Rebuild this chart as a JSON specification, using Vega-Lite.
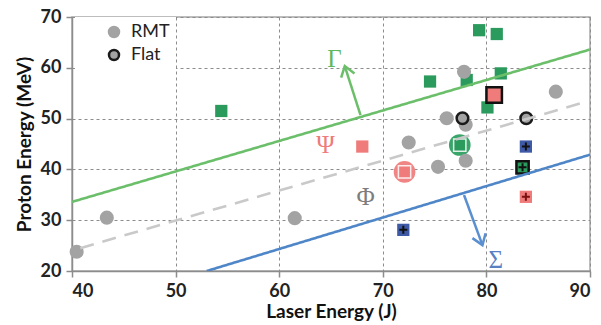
{
  "$schema": "https://vega.github.io/schema/vega-lite/v6.json",
  "width": 518,
  "height": 254,
  "autosize": {"type": "none"},
  "padding": {"left": 72, "top": 17, "right": 11, "bottom": 54},
  "background": "white",
  "config": {
    "view": {"stroke": "#a8a8a8", "strokeWidth": 1.5},
    "axis": {
      "labelFont": "Lato", "labelFontSize": 18, "labelFontWeight": "bold", "labelColor": "#222",
      "titleFont": "Lato", "titleFontSize": 19, "titleFontWeight": "bold", "titleColor": "#111",
      "gridColor": "#8c8c8c", "gridDash": [3, 3], "gridWidth": 1,
      "domainColor": "#8c8c8c", "domainWidth": 1.5,
      "tickColor": "#8c8c8c", "tickSize": 6, "tickWidth": 1.5
    },
    "axisX": {"labelPadding": 5, "titlePadding": 2},
    "axisY": {"labelPadding": 5, "titlePadding": 6}
  },
  "datasets": {
    "shots": [
      {"laser": 40.45, "proton": 23.8, "regime": "Φ", "target": "RMT", "marker": "dot"},
      {"laser": 43.36, "proton": 30.5, "regime": "Φ", "target": "RMT", "marker": "dot"},
      {"laser": 61.5, "proton": 30.4, "regime": "Φ", "target": "RMT", "marker": "dot"},
      {"laser": 72.5, "proton": 45.3, "regime": "Φ", "target": "RMT", "marker": "dot"},
      {"laser": 75.33, "proton": 40.5, "regime": "Φ", "target": "RMT", "marker": "dot"},
      {"laser": 78.0, "proton": 41.7, "regime": "Φ", "target": "RMT", "marker": "dot"},
      {"laser": 77.84, "proton": 59.2, "regime": "Φ", "target": "RMT", "marker": "dot"},
      {"laser": 76.17, "proton": 50.06, "regime": "Φ", "target": "RMT", "marker": "dot"},
      {"laser": 78.0, "proton": 48.8, "regime": "Φ", "target": "RMT", "marker": "dot"},
      {"laser": 86.7, "proton": 55.3, "regime": "Φ", "target": "RMT", "marker": "dot"},
      {"laser": 77.69, "proton": 50.06, "regime": "Φ", "target": "Flat", "marker": "dot"},
      {"laser": 83.85, "proton": 50.06, "regime": "Φ", "target": "Flat", "marker": "dot"},
      {"laser": 54.41, "proton": 51.5, "regime": "Γ", "target": "RMT", "marker": "dot"},
      {"laser": 74.56, "proton": 57.3, "regime": "Γ", "target": "RMT", "marker": "dot"},
      {"laser": 79.3, "proton": 67.4, "regime": "Γ", "target": "RMT", "marker": "dot"},
      {"laser": 81.0, "proton": 66.65, "regime": "Γ", "target": "RMT", "marker": "dot"},
      {"laser": 81.39, "proton": 58.9, "regime": "Γ", "target": "RMT", "marker": "dot"},
      {"laser": 80.1, "proton": 52.2, "regime": "Γ", "target": "RMT", "marker": "dot"},
      {"laser": 78.1, "proton": 57.6, "regime": "Γ", "target": "RMT", "marker": "dot"},
      {"laser": 77.43, "proton": 44.8, "regime": "Γ", "target": "RMT", "marker": "ring"},
      {"laser": 83.49, "proton": 40.4, "regime": "Γ", "target": "Flat", "marker": "plus"},
      {"laser": 68.02, "proton": 44.5, "regime": "Ψ", "target": "RMT", "marker": "dot"},
      {"laser": 72.1, "proton": 39.5, "regime": "Ψ", "target": "RMT", "marker": "ring"},
      {"laser": 80.75, "proton": 54.65, "regime": "Ψ", "target": "Flat", "marker": "dot"},
      {"laser": 83.81, "proton": 34.6, "regime": "Ψ", "target": "RMT", "marker": "plus"},
      {"laser": 71.98, "proton": 28.1, "regime": "Σ", "target": "RMT", "marker": "plus"},
      {"laser": 83.81, "proton": 44.5, "regime": "Σ", "target": "RMT", "marker": "plus"}
    ],
    "fits": [
      {"regime": "Γ", "laser": 40, "proton": 33.6},
      {"regime": "Γ", "laser": 90, "proton": 63.6},
      {"regime": "Φ", "laser": 40.8, "proton": 24.5},
      {"regime": "Φ", "laser": 89.1, "proton": 53.0},
      {"regime": "Σ", "laser": 53, "proton": 20},
      {"regime": "Σ", "laser": 90, "proton": 42.9}
    ],
    "arrows": [
      {"regime": "Γ", "laser": 67.85, "proton": 50.7, "laser_tip": 66.33, "proton_tip": 60.35},
      {"regime": "Σ", "laser": 77.84, "proton": 34.96, "laser_tip": 79.62, "proton_tip": 25.1}
    ],
    "regions": [
      {"regime": "Γ", "laser": 65.34, "proton": 61.8},
      {"regime": "Ψ", "laser": 64.47, "proton": 44.8},
      {"regime": "Φ", "laser": 68.34, "proton": 34.6},
      {"regime": "Σ", "laser": 80.9, "proton": 22.2}
    ]
  },
  "resolve": {"scale": {"color": "independent", "fill": "independent", "stroke": "independent", "strokeDash": "independent"}},
  "layer": [
    {
      "data": {"name": "shots"},
      "transform": [{"filter": "datum.marker === 'ring'"}],
      "mark": {"type": "circle", "opacity": 1, "size": 470, "clip": false},
      "encoding": {
        "x": {"field": "laser", "type": "quantitative", "scale": {"domain": [40, 90], "nice": false, "zero": false},
              "axis": {"values": [40, 50, 60, 70, 80, 90], "title": "Laser Energy (J)"}},
        "y": {"field": "proton", "type": "quantitative", "scale": {"domain": [20, 70], "nice": false, "zero": false},
              "axis": {"values": [20, 25, 30, 35, 40, 45, 50, 55, 60, 65, 70], "title": "Proton Energy (MeV)"}},
        "fill": {"field": "regime", "type": "nominal", "scale": {"domain": ["Γ", "Ψ"], "range": ["#3aa56a", "#f08585"]}, "legend": null}
      }
    },
    {
      "data": {"name": "shots"},
      "transform": [{"filter": "datum.regime !== 'Φ' && datum.target === 'RMT'"}],
      "mark": {"type": "square", "opacity": 1, "size": 150, "stroke": "#ffffff", "strokeOpacity": 0, "clip": false},
      "encoding": {
        "x": {"field": "laser", "type": "quantitative"},
        "y": {"field": "proton", "type": "quantitative"},
        "fill": {"field": "regime", "type": "nominal", "scale": {"domain": ["Γ", "Ψ", "Σ"], "range": ["#2b9b5d", "#ef7b7b", "#3e5aa6"]}, "legend": null},
        "strokeOpacity": {"condition": {"test": "datum.marker === 'ring'", "value": 0.85}, "value": 0},
        "strokeWidth": {"value": 1.5}
      }
    },
    {
      "data": {"name": "shots"},
      "transform": [{"filter": "datum.regime !== 'Φ' && datum.target === 'Flat'"}],
      "mark": {"type": "square", "opacity": 1, "stroke": "#111111", "strokeWidth": 2.5, "clip": false},
      "encoding": {
        "x": {"field": "laser", "type": "quantitative"},
        "y": {"field": "proton", "type": "quantitative"},
        "fill": {"field": "regime", "type": "nominal", "scale": {"domain": ["Γ", "Ψ"], "range": ["#2b9b5d", "#ef7b7b"]}, "legend": null},
        "size": {"condition": {"test": "datum.marker === 'plus'", "value": 150}, "value": 240}
      }
    },
    {
      "data": {"name": "shots"},
      "transform": [{"filter": "datum.marker === 'plus'"}],
      "mark": {"type": "point", "shape": "M-1,0H1M0,-1V1", "filled": false, "size": 64, "strokeWidth": 2, "opacity": 1, "clip": false},
      "encoding": {
        "x": {"field": "laser", "type": "quantitative"},
        "y": {"field": "proton", "type": "quantitative"},
        "stroke": {"field": "regime", "type": "nominal", "scale": {"domain": ["Γ", "Ψ", "Σ"], "range": ["#111111", "#7a1010", "#111111"]}, "legend": null}
      }
    },
    {
      "data": {"name": "shots"},
      "transform": [{"filter": "datum.regime === 'Φ'"}],
      "mark": {"type": "circle", "opacity": 1, "size": 135, "strokeWidth": 2.5, "clip": false},
      "encoding": {
        "x": {"field": "laser", "type": "quantitative"},
        "y": {"field": "proton", "type": "quantitative"},
        "order": {"field": "target", "sort": "descending"},
        "fill": {"field": "target", "type": "nominal", "scale": {"domain": ["RMT", "Flat"], "range": ["#a3a3a3", "#a3a3a3"]},
                 "legend": {"title": null, "orient": "none", "legendX": 3, "legendY": 0, "padding": 6, "symbolOffset": 24,
                            "fillColor": "white", "symbolSize": 100, "symbolStrokeWidth": 2.5, "labelOffset": 8,
                            "labelFont": "Lato", "labelFontSize": 18, "labelFontWeight": "normal", "labelColor": "#222", "rowPadding": 3}},
        "stroke": {"field": "target", "type": "nominal", "scale": {"domain": ["RMT", "Flat"], "range": ["#a3a3a3", "#1a1a1a"]},
                   "legend": {"title": null, "orient": "none", "legendX": 3, "legendY": 0, "padding": 6, "symbolOffset": 24,
                              "fillColor": "white", "symbolSize": 100, "symbolStrokeWidth": 2.5, "labelOffset": 8,
                              "labelFont": "Lato", "labelFontSize": 18, "labelFontWeight": "normal", "labelColor": "#222", "rowPadding": 3}}
      }
    },
    {
      "data": {"name": "fits"},
      "mark": {"type": "line", "strokeWidth": 2.6, "clip": true},
      "encoding": {
        "x": {"field": "laser", "type": "quantitative"},
        "y": {"field": "proton", "type": "quantitative"},
        "color": {"field": "regime", "type": "nominal", "scale": {"domain": ["Γ", "Φ", "Σ"], "range": ["#6cbf6a", "#c9c9c9", "#4f86c8"]}, "legend": null},
        "strokeDash": {"field": "regime", "type": "nominal", "scale": {"domain": ["Γ", "Φ", "Σ"], "range": [[1, 0], [14, 9], [1, 0]]}, "legend": null},
        "strokeWidth": {"condition": {"test": "datum.regime === 'Φ'", "value": 3.5}, "value": 2.6}
      }
    },
    {
      "data": {"name": "arrows"},
      "mark": {"type": "rule", "strokeWidth": 2.5},
      "encoding": {
        "x": {"field": "laser", "type": "quantitative"},
        "y": {"field": "proton", "type": "quantitative"},
        "x2": {"field": "laser_tip"},
        "y2": {"field": "proton_tip"},
        "color": {"field": "regime", "type": "nominal", "scale": {"domain": ["Γ", "Σ"], "range": ["#6cbf6a", "#5a8fd0"]}, "legend": null}
      }
    },
    {
      "data": {"name": "arrows"},
      "transform": [{"filter": "datum.regime === 'Γ'"}],
      "mark": {"type": "point", "shape": "M-0.7,1L0,0L0.7,1", "filled": false, "size": 400, "strokeWidth": 2.5, "opacity": 1, "angle": -17.7, "stroke": "#6cbf6a"},
      "encoding": {
        "x": {"field": "laser_tip", "type": "quantitative"},
        "y": {"field": "proton_tip", "type": "quantitative"}
      }
    },
    {
      "data": {"name": "arrows"},
      "transform": [{"filter": "datum.regime === 'Σ'"}],
      "mark": {"type": "point", "shape": "M-0.7,1L0,0L0.7,1", "filled": false, "size": 400, "strokeWidth": 2.5, "opacity": 1, "angle": 159.8, "stroke": "#5a8fd0"},
      "encoding": {
        "x": {"field": "laser_tip", "type": "quantitative"},
        "y": {"field": "proton_tip", "type": "quantitative"}
      }
    },
    {
      "data": {"name": "regions"},
      "mark": {"type": "text", "font": "Liberation Serif", "fontSize": 25, "align": "center", "baseline": "middle", "clip": false},
      "encoding": {
        "x": {"field": "laser", "type": "quantitative"},
        "y": {"field": "proton", "type": "quantitative"},
        "text": {"field": "regime"},
        "color": {"field": "regime", "type": "nominal", "scale": {"domain": ["Γ", "Ψ", "Φ", "Σ"], "range": ["#5fb85e", "#ef7b7b", "#7d7d7d", "#5a80c4"]}, "legend": null}
      }
    }
  ]
}
